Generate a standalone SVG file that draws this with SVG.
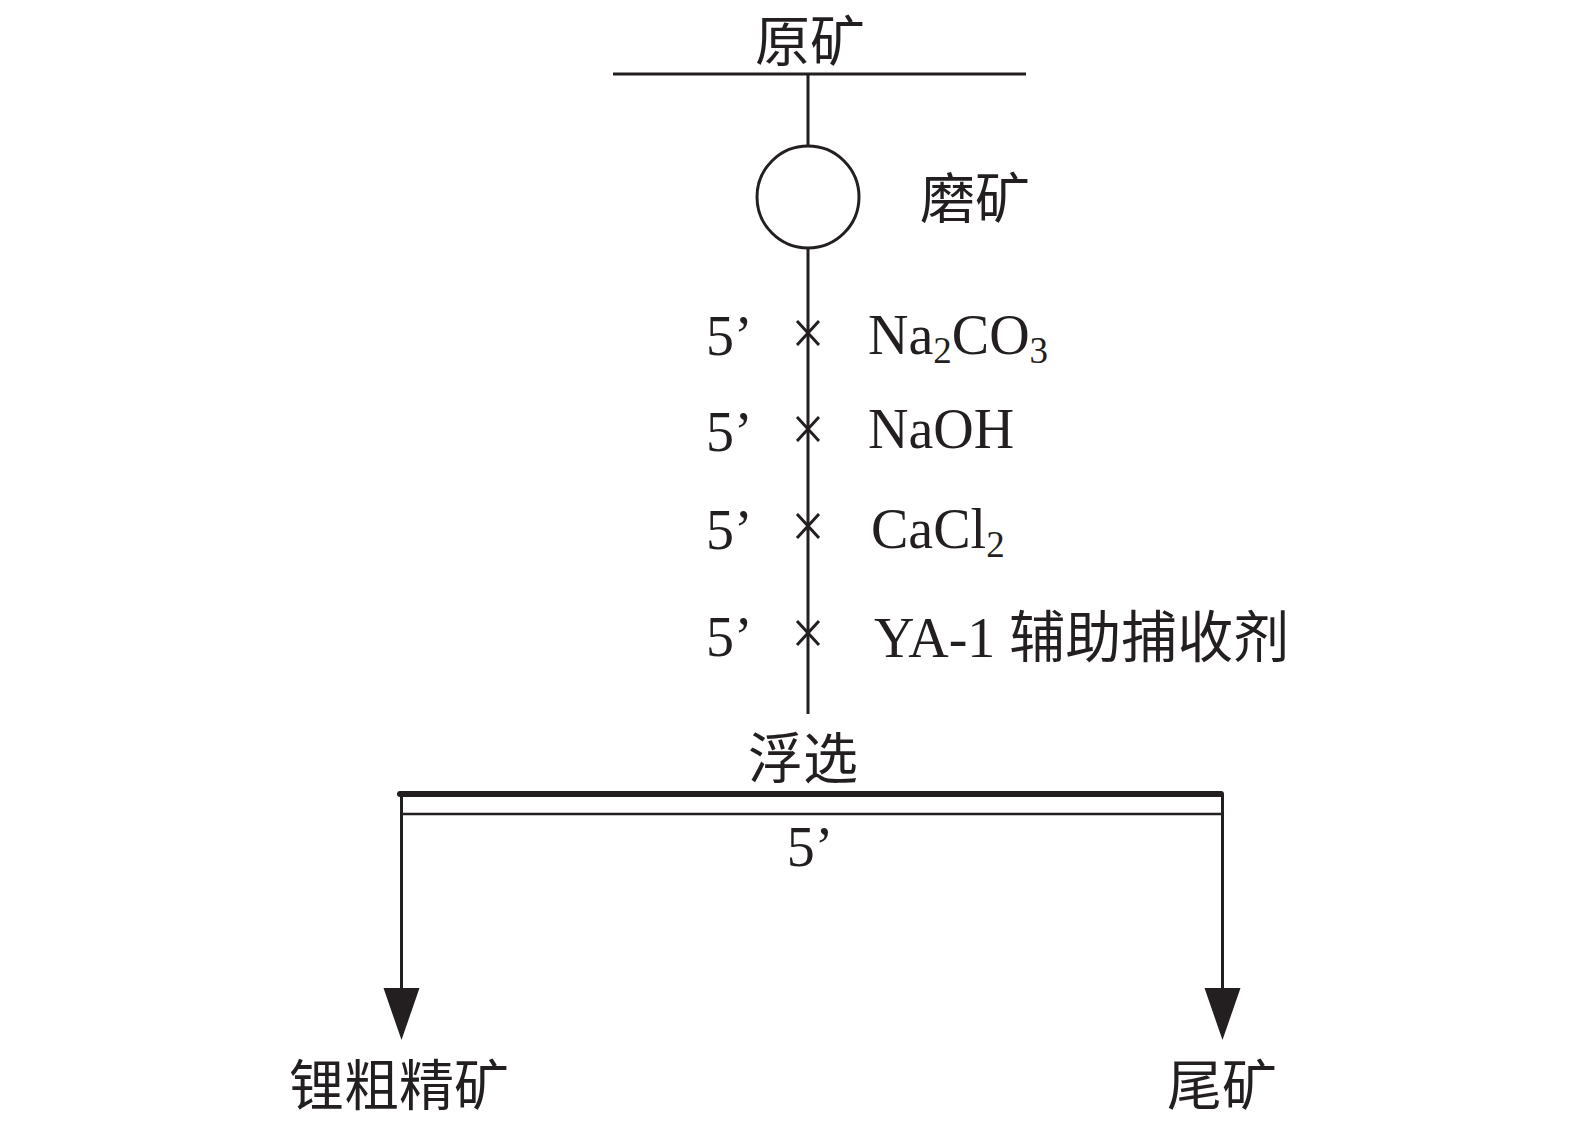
<svg xmlns="http://www.w3.org/2000/svg" width="1575" height="1122" viewBox="0 0 1575 1122">
<style>
.ln{stroke:#231f20;stroke-width:3;fill:none}
.cjk{font-family:"Noto Sans CJK SC","Liberation Serif",sans-serif;font-size:55px;fill:#231f20}
.lat{font-family:"Liberation Serif","Noto Sans CJK SC",serif;font-size:56px;fill:#231f20}
.sub{font-size:37px}
.arr{fill:#231f20}
</style>
<rect width="1575" height="1122" fill="#fff"/>
<g id="raw-ore">
<line class="ln" x1="613" y1="74" x2="1026" y2="74"/>
<text class="cjk" x="810" y="61" text-anchor="middle">原矿</text>
</g>
<g id="grinding">
<circle class="ln" cx="808" cy="197" r="51"/>
<text class="cjk" x="975" y="218" text-anchor="middle">磨矿</text>
</g>
<g id="reagent-na2co3">
<text class="lat" x="706" y="355">5’</text>
<path class="ln" d="M797,321 L819,345 M819,321 L797,345"/>
<text class="lat" x="868" y="354">Na<tspan class="sub" dy="9">2</tspan><tspan dy="-9">CO</tspan><tspan class="sub" dy="9">3</tspan></text>
</g>
<g id="reagent-naoh">
<text class="lat" x="868" y="448">NaOH</text>
<text class="lat" x="706" y="451">5’</text>
<path class="ln" d="M797,417 L819,441 M819,417 L797,441"/>
</g>
<g id="reagent-cacl2">
<text class="lat" x="706" y="549">5’</text>
<path class="ln" d="M797,514 L819,538 M819,514 L797,538"/>
<text class="lat" x="871" y="548">CaCl<tspan class="sub" dy="9">2</tspan></text>
</g>
<g id="reagent-ya1">
<text class="lat" x="706" y="656">5’</text>
<path class="ln" d="M797,621 L819,645 M819,621 L797,645"/>
<text class="lat" x="874" y="657">YA-1 辅助捕收剂</text>
</g>
<g id="flotation">
<text class="cjk" x="803" y="778" text-anchor="middle">浮选</text>
<line x1="400" y1="794" x2="1221" y2="794" stroke="#231f20" stroke-width="6" stroke-linecap="round"/>
<line x1="401" y1="814" x2="1223" y2="814" stroke="#231f20" stroke-width="2.5"/>
<text class="lat" x="810" y="866" text-anchor="middle">5’</text>
</g>
<g id="concentrate">
<text class="cjk" x="399" y="1105" text-anchor="middle">锂粗精矿</text>
</g>
<g id="tailings">
<text class="cjk" x="1222" y="1105" text-anchor="middle">尾矿</text>
</g>
<g id="connectors">
<line class="ln" x1="808" y1="74" x2="808" y2="146"/>
<line class="ln" x1="808" y1="248" x2="808" y2="714"/>
<line class="ln" x1="401.5" y1="794" x2="401.5" y2="990"/>
<line class="ln" x1="1222.5" y1="794" x2="1222.5" y2="990"/>
<polygon class="arr" points="383.5,988 419.5,988 401.5,1040"/>
<polygon class="arr" points="1204.5,988 1240.5,988 1222.5,1040"/>
</g>
</svg>
